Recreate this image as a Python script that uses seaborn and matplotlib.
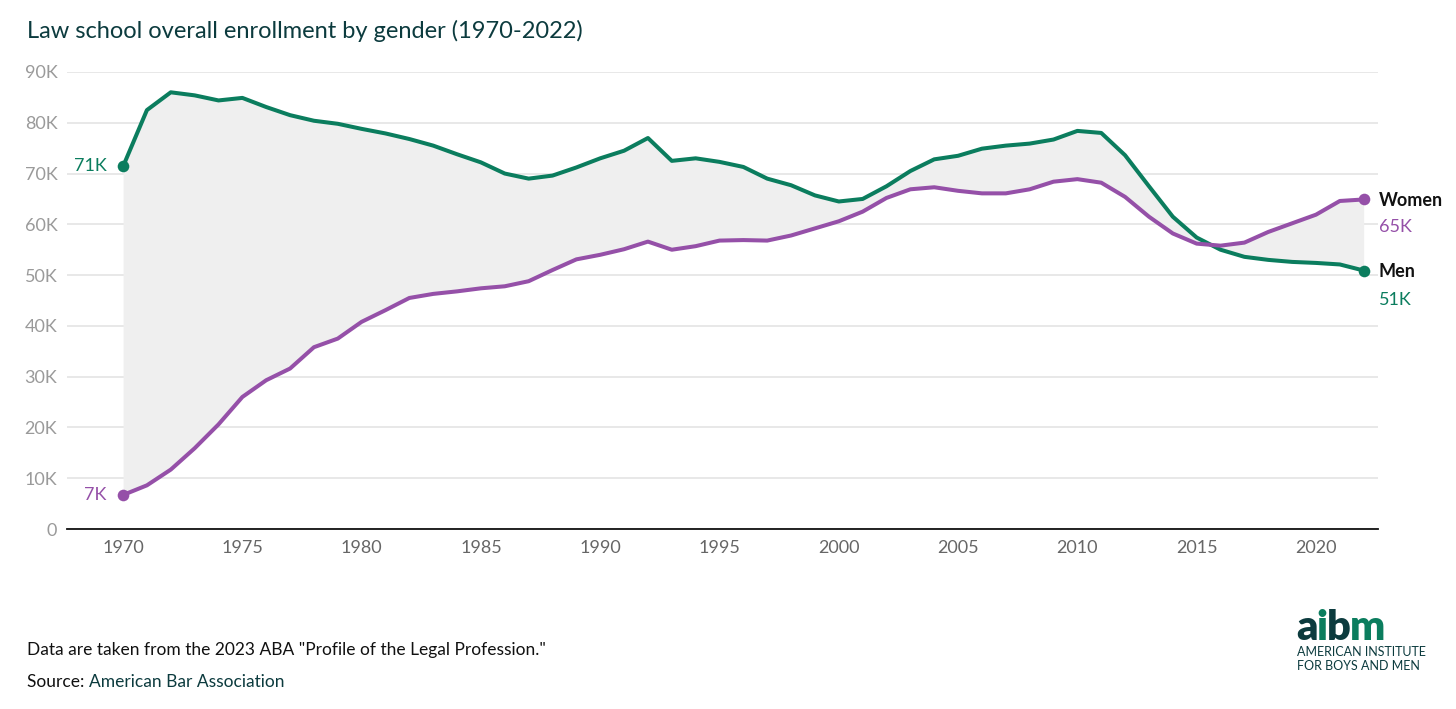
import numpy as np
import pandas as pd
import matplotlib
matplotlib.use("Agg")
import matplotlib.pyplot as plt
import seaborn as sns

years = list(range(1970, 2023))
men = [71.4, 82.5, 86.0, 85.4, 84.4, 84.9, 83.1, 81.5, 80.4, 79.8,
       78.8, 77.9, 76.8, 75.5, 73.8, 72.2, 70.0, 69.0, 69.6, 71.2,
       73.0, 74.5, 77.0, 72.5, 73.0, 72.3, 71.3, 69.0, 67.7, 65.7,
       64.5, 65.0, 67.5, 70.5, 72.8, 73.5, 74.9, 75.5, 75.9, 76.7,
       78.4, 78.0, 73.6, 67.5, 61.5, 57.4, 55.0, 53.6, 53.0, 52.6,
       52.4, 52.1, 50.9]
women = [6.7, 8.6, 11.7, 15.9, 20.6, 26.0, 29.3, 31.6, 35.8, 37.5,
         40.8, 43.1, 45.5, 46.3, 46.8, 47.4, 47.8, 48.8, 51.0, 53.1,
         54.0, 55.1, 56.6, 55.0, 55.7, 56.8, 56.9, 56.8, 57.8, 59.2,
         60.6, 62.5, 65.2, 66.9, 67.3, 66.6, 66.1, 66.1, 66.9, 68.4,
         68.9, 68.2, 65.4, 61.5, 58.2, 56.2, 55.8, 56.4, 58.5, 60.2,
         61.9, 64.6, 64.9]
yticks = [0, 10000, 20000, 30000, 40000, 50000, 60000, 70000, 80000, 90000]
ytick_labels = ["0", "10K", "20K", "30K", "40K", "50K", "60K", "70K", "80K", "90K"]
xticks = [1970, 1975, 1980, 1985, 1990, 1995, 2000, 2005, 2010, 2015, 2020]

MEN_C = "#0b7d5e"
WOMEN_C = "#9550a8"
DARK = "#0c3b3e"

df = pd.DataFrame({
    "year": years * 2,
    "value": [v * 1000 for v in men] + [v * 1000 for v in women],
    "gender": ["Men"] * len(years) + ["Women"] * len(years),
})

sns.set_theme(style="white")
plt.rcParams["font.family"] = ["Lato", "DejaVu Sans"]

fig = plt.figure(figsize=(14.56, 7.09), dpi=100)
ax = fig.add_axes([67 / 1456, 1 - 529 / 709, (1378 - 67) / 1456, (529 - 72) / 709])

mv = np.array(men) * 1000
wv = np.array(women) * 1000
ax.fill_between(years, mv, wv, color="#efefef", zorder=1, linewidth=0)

sns.lineplot(data=df, x="year", y="value", hue="gender",
             palette={"Men": MEN_C, "Women": WOMEN_C}, linewidth=2.9,
             legend=False, ax=ax, zorder=3)

for arr, c in ((mv, MEN_C), (wv, WOMEN_C)):
    ax.scatter([years[0], years[-1]], [arr[0], arr[-1]], s=70, color=c, zorder=4, linewidths=0)

ax.set_xlim(1967.65, 2022.6)
ax.set_ylim(0, 90000)
ax.set_yticks(yticks)
ax.set_yticklabels(ytick_labels)
ax.set_xticks(xticks)
ax.set_xticklabels([str(x) for x in xticks])
ax.tick_params(axis="y", length=0, pad=7, labelsize=13, labelcolor="#9a9a9a")
ax.tick_params(axis="x", length=0, pad=8, labelsize=13, labelcolor="#666666")
ax.grid(axis="y", color="#e2e2e2", linewidth=1.1, zorder=0)
ax.set_axisbelow(True)
for s in ["top", "right", "left"]:
    ax.spines[s].set_visible(False)
ax.spines["bottom"].set_color("#111111")
ax.spines["bottom"].set_linewidth(1.3)
ax.set_xlabel("")
ax.set_ylabel("")

# endpoint labels
ax.annotate("71K", (years[0], mv[0]), xytext=(-12, 0), textcoords="offset points",
            ha="right", va="center", fontsize=13, color=MEN_C)
ax.annotate("7K", (years[0], wv[0]), xytext=(-12, 0), textcoords="offset points",
            ha="right", va="center", fontsize=13, color=WOMEN_C)
ax.annotate("Women", (years[-1], wv[-1]), xytext=(11, -1), textcoords="offset points",
            ha="left", va="center", fontsize=13, color="#111111", fontweight="bold",
            annotation_clip=False)
ax.annotate("65K", (years[-1], wv[-1]), xytext=(11, -20), textcoords="offset points",
            ha="left", va="center", fontsize=13, color=WOMEN_C, annotation_clip=False)
ax.annotate("Men", (years[-1], mv[-1]), xytext=(11, -1), textcoords="offset points",
            ha="left", va="center", fontsize=13, color="#111111", fontweight="bold",
            annotation_clip=False)
ax.annotate("51K", (years[-1], mv[-1]), xytext=(11, -21), textcoords="offset points",
            ha="left", va="center", fontsize=13, color=MEN_C, annotation_clip=False)

# title
fig.text(27 / 1456, 1 - 31 / 709, "Law school overall enrollment by gender (1970-2022)",
         fontsize=17, color=DARK, ha="left", va="center")

# footer
fig.text(27 / 1456, 1 - 650 / 709, 'Data are taken from the 2023 ABA "Profile of the Legal Profession."',
         fontsize=12.5, color="#111111", ha="left", va="center")
t1 = fig.text(27 / 1456, 1 - 682 / 709, "Source: ", fontsize=12.5, color="#111111",
              ha="left", va="center")
fig.canvas.draw()
bb = t1.get_window_extent()
fig.text(bb.x1 / 1456, 1 - 682 / 709, "American Bar Association", fontsize=12.5,
         color=DARK, ha="left", va="center")

# logo
ly = 1 - 640 / 709
parts = [("a", DARK), ("i", MEN_C), ("b", DARK), ("m", MEN_C)]
x = 1296
for ch, col in parts:
    t = fig.text(x / 1456, ly, ch, fontsize=30, fontweight="heavy", color=col,
                 ha="left", va="baseline")
    fig.canvas.draw()
    x = t.get_window_extent().x1 - 1
fig.text(1297 / 1456, 1 - 652 / 709, "AMERICAN INSTITUTE", fontsize=9, color=DARK,
         ha="left", va="center")
fig.text(1297 / 1456, 1 - 666 / 709, "FOR BOYS AND MEN", fontsize=9, color=DARK,
         ha="left", va="center")

fig.savefig("out.png", dpi=100, facecolor="white")
